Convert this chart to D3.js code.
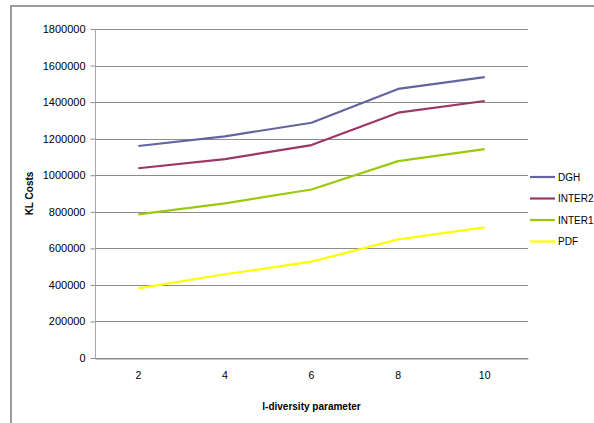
<!DOCTYPE html>
<html>
<head>
<meta charset="utf-8">
<script src="https://cdn.jsdelivr.net/npm/d3@7"></script>
<style>
  html, body { margin: 0; padding: 0; background: #fff; }
  svg { display: block; }
  text { font-family: "Liberation Sans", Arial, sans-serif; fill: #000; }
</style>
</head>
<body>
<svg id="chart" width="594" height="423"></svg>
<script>
// l-diversity parameter values on the x axis
const categories = ["2", "4", "6", "8", "10"];

// KL cost per method
const seriesNames = ["DGH", "INTER2", "INTER1", "PDF"];
const dghValues    = [1160000, 1213000, 1287000, 1472000, 1537000];
const inter2Values = [1038000, 1088000, 1165000, 1342000, 1406000];
const inter1Values = [786000, 846000, 922000, 1077000, 1143000];
const pdfValues    = [381000, 458000, 527000, 649000, 715000];

const yTicks = [0, 200000, 400000, 600000, 800000, 1000000, 1200000, 1400000, 1600000, 1800000];

const seriesColors = ["#64649e", "#9b3767", "#9acb0b", "#ffff00"];
const seriesValues = [dghValues, inter2Values, inter1Values, pdfValues];

const svg = d3.select("#chart");

// outer chart frame
svg.append("path")
  .attr("d", "M11,423 L11,6 L594,6")
  .attr("fill", "none")
  .attr("stroke", "#9a9a9a")
  .attr("stroke-width", 2);

const plot = { left: 95, right: 528, top: 29, bottom: 358 };

const x = d3.scaleBand()
  .domain(categories)
  .range([plot.left, plot.right]);

const y = d3.scaleLinear()
  .domain([0, 1800000])
  .range([plot.bottom, plot.top]);

// horizontal gridlines
svg.append("g")
  .selectAll("line")
  .data(yTicks)
  .join("line")
  .attr("x1", plot.left)
  .attr("x2", plot.right)
  .attr("y1", d => Math.round(y(d)) + 0.5)
  .attr("y2", d => Math.round(y(d)) + 0.5)
  .attr("stroke", "#8c8c8c")
  .attr("stroke-width", 1);

// y axis
const yAxis = svg.append("g")
  .attr("transform", `translate(${plot.left + 0.5},0)`)
  .call(d3.axisLeft(y).tickValues(yTicks).tickSize(5).tickPadding(5).tickFormat(d3.format("d")));
yAxis.select(".domain").attr("stroke", "#a8a8a8").attr("d", `M0,${plot.top}V${plot.bottom + 0.5}`);
yAxis.selectAll(".tick line").attr("stroke", "#8c8c8c");
yAxis.selectAll(".tick text")
  .style("font-size", "11px")
  .attr("fill", "#000");

// x axis
const xAxis = svg.append("g")
  .attr("transform", `translate(0,${Math.round(plot.bottom) + 0.5})`)
  .call(d3.axisBottom(x).tickSize(0).tickPadding(13));
xAxis.select(".domain").attr("stroke", "#8c8c8c");
xAxis.selectAll(".tick text")
  .style("font-size", "10.5px")
  .attr("fill", "#000");

// series lines
const line = d3.line()
  .x((d, i) => x(categories[i]) + x.bandwidth() / 2)
  .y(d => y(d));

svg.append("g")
  .selectAll("path")
  .data(seriesValues)
  .join("path")
  .attr("d", d => line(d))
  .attr("fill", "none")
  .attr("stroke", (d, i) => seriesColors[i])
  .attr("stroke-width", 2.2)
  .attr("stroke-linejoin", "round");

// axis titles
svg.append("text")
  .attr("x", (plot.left + plot.right) / 2)
  .attr("y", 410)
  .attr("text-anchor", "middle")
  .style("font-size", "10px")
  .style("font-weight", "bold")
  .text("l-diversity parameter");

svg.append("text")
  .attr("transform", `translate(33,${(plot.top + plot.bottom) / 2}) rotate(-90)`)
  .attr("text-anchor", "middle")
  .style("font-size", "10px")
  .style("font-weight", "bold")
  .text("KL Costs");

// legend
const legend = svg.append("g")
  .selectAll("g")
  .data(seriesNames)
  .join("g")
  .attr("transform", (d, i) => `translate(530,${177 + i * 21.5})`);

legend.append("line")
  .attr("x1", 0).attr("x2", 25)
  .attr("y1", 0).attr("y2", 0)
  .attr("stroke", (d, i) => seriesColors[i])
  .attr("stroke-width", 2.2);

legend.append("text")
  .attr("x", 28)
  .attr("y", 0)
  .attr("dy", "0.35em")
  .style("font-size", "10px")
  .text(d => d);
</script>
</body>
</html>
